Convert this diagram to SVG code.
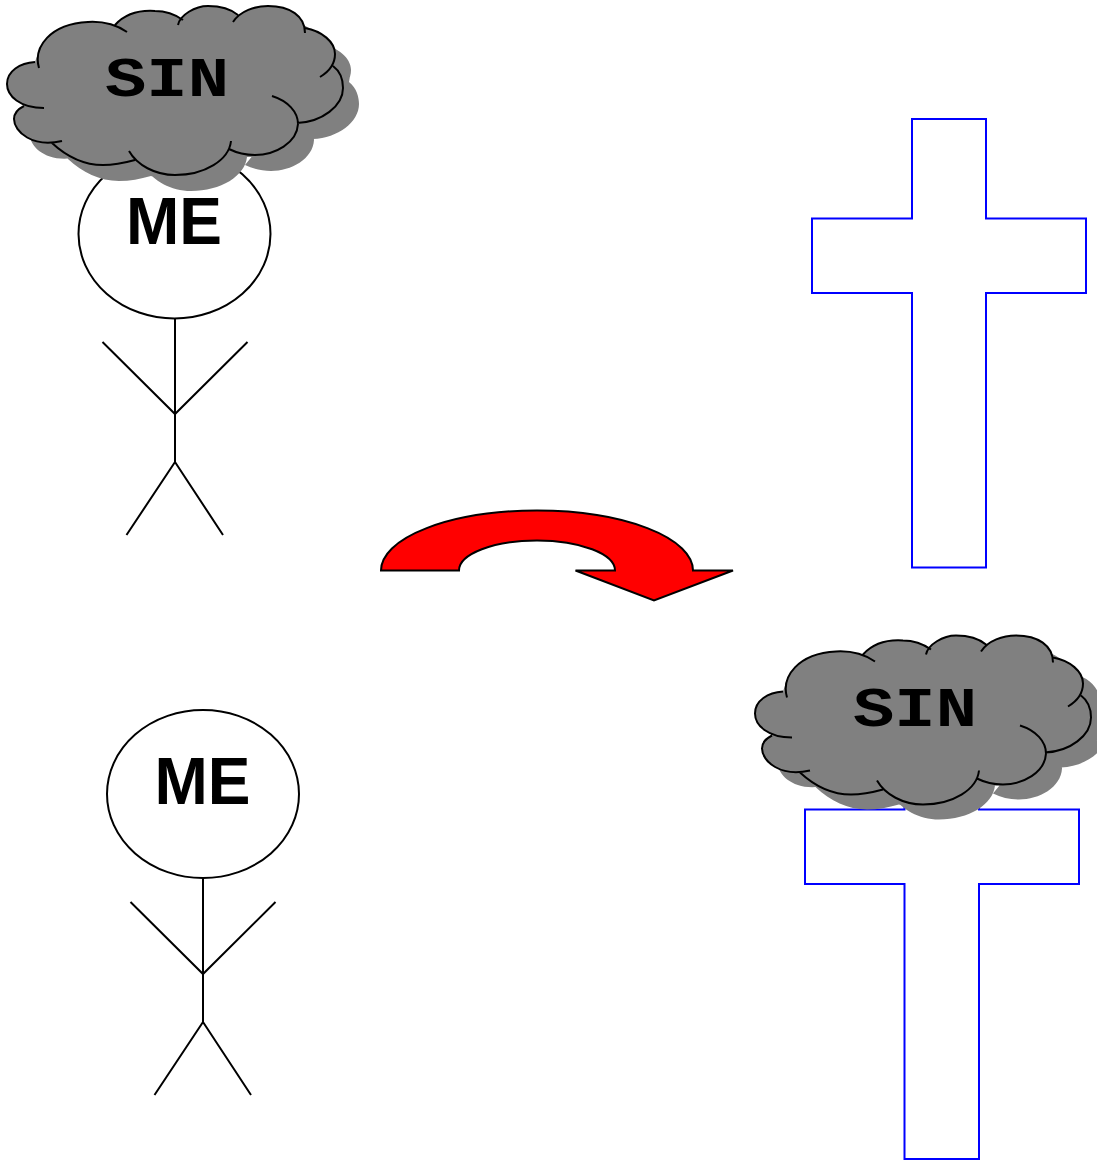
<svg xmlns="http://www.w3.org/2000/svg" width="1097" height="1161" viewBox="0 0 1097 1161">
<style>
.ln{fill:none;stroke:#000;stroke-width:2}
.head{fill:#fff;stroke:#000;stroke-width:2}
.cross{fill:#fff;stroke:#00f;stroke-width:2}
.me{font-family:"Liberation Sans",Arial,sans-serif;font-weight:700;font-size:67px;fill:#000}
.sin{font-family:"Liberation Mono","Courier New",monospace;font-weight:700;font-size:56px;fill:#000}
.shadow{fill:#808080}
.body{fill:#808080}
</style>
<defs>
<path id="cloudLines" d="M39 68C33 47 50 24 88 22C105 21 118 26 127 32M115 25C125 14 140 10 155 11C166 11 176 15 183 20M178 25C180 15 195 6 208 6C222 6 232 10 238 15M233 22C240 11 255 6 268 6C290 6 305 16 305 33M305 28C322 31 335 42 335 54C335 63 330 71 320 77M333 66C341 72 343 82 343 88C343 106 322 122 297 123M272 96C288 101 298 112 298 124C297 143 275 155 255 155C246 155 237 153 229 149M231 141C229 160 205 175 175 175C155 175 137 165 129 151M135 160C124 163 114 165 103 165C84 165 66 156 52 143M62 141C33 148 14 132 14 119C14 113 18 109 24 106M44 108C20 108 7 96 7 84C7 71 20 63 35 62"/>
<path id="cloudShape" d="M39 68C33 47 50 24 88 22C105 21 118 26 127 32ZM115 25C125 14 140 10 155 11C166 11 176 15 183 20ZM178 25C180 15 195 6 208 6C222 6 232 10 238 15ZM233 22C240 11 255 6 268 6C290 6 305 16 305 33ZM305 28C322 31 335 42 335 54C335 63 330 71 320 77ZM333 66C341 72 343 82 343 88C343 106 322 122 297 123ZM272 96C288 101 298 112 298 124C297 143 275 155 255 155C246 155 237 153 229 149ZM231 141C229 160 205 175 175 175C155 175 137 165 129 151ZM135 160C124 163 114 165 103 165C84 165 66 156 52 143ZM62 141C33 148 14 132 14 119C14 113 18 109 24 106ZM44 108C20 108 7 96 7 84C7 71 20 63 35 62ZM35 62L39 50L88 22L115 25L155 11L183 20L208 6L238 15L268 6L305 28L335 54L333 66L343 88L297 123L272 140L231 141L175 175L135 160L52 143L24 106L7 84Z"/>
</defs>
<g id="person-top">
<ellipse class="head" cx="174.500" cy="234" rx="96" ry="84.500"/>
<path class="ln" d="M175 318V462M102.500 342L175 414L247.500 342M126.500 535L175 462L223 535"/>
<text class="me" x="126" y="244" textLength="96" lengthAdjust="spacingAndGlyphs">ME</text>
</g>
<g id="cloud-top">
<use href="#cloudShape" class="shadow" x="16" y="16"/>
<use href="#cloudShape" class="body"/>
<use href="#cloudLines" class="ln"/>
<text class="sin" x="105" y="96" textLength="124" lengthAdjust="spacingAndGlyphs">SIN</text>
</g>
<g id="cross-top">
<path class="cross" d="M912 119H986V218.500H1086V293H986V567.500H912V293H812V218.500H912Z"/>
</g>
<g id="arrow">
<path fill="#f00" stroke="#000" stroke-width="2" stroke-linejoin="miter" d="M381 570.500A156 60 0 0 1 693 570.500H733L654 600.500L575.500 570.500H615A78 30 0 0 0 459 570.500Z"/>
</g>
<g id="person-bottom">
<ellipse class="head" cx="203" cy="794" rx="96" ry="84"/>
<path class="ln" d="M203 878V1022M130.500 902L203 974L275.500 902M154.500 1095L203 1022L251 1095"/>
<text class="me" x="154.500" y="804" textLength="96" lengthAdjust="spacingAndGlyphs">ME</text>
</g>
<g id="cross-bottom">
<path class="cross" d="M904.500 710H979V809.500H1079V884H979V1159H904.500V884H805V809.500H904.500Z"/>
</g>
<g id="cloud-bottom" transform="translate(748 629.500)">
<use href="#cloudShape" class="shadow" x="16" y="15"/>
<use href="#cloudShape" class="body"/>
<use href="#cloudLines" class="ln"/>
<text class="sin" x="105" y="96" textLength="124" lengthAdjust="spacingAndGlyphs">SIN</text>
</g>
<g id="connectors"></g>
</svg>
